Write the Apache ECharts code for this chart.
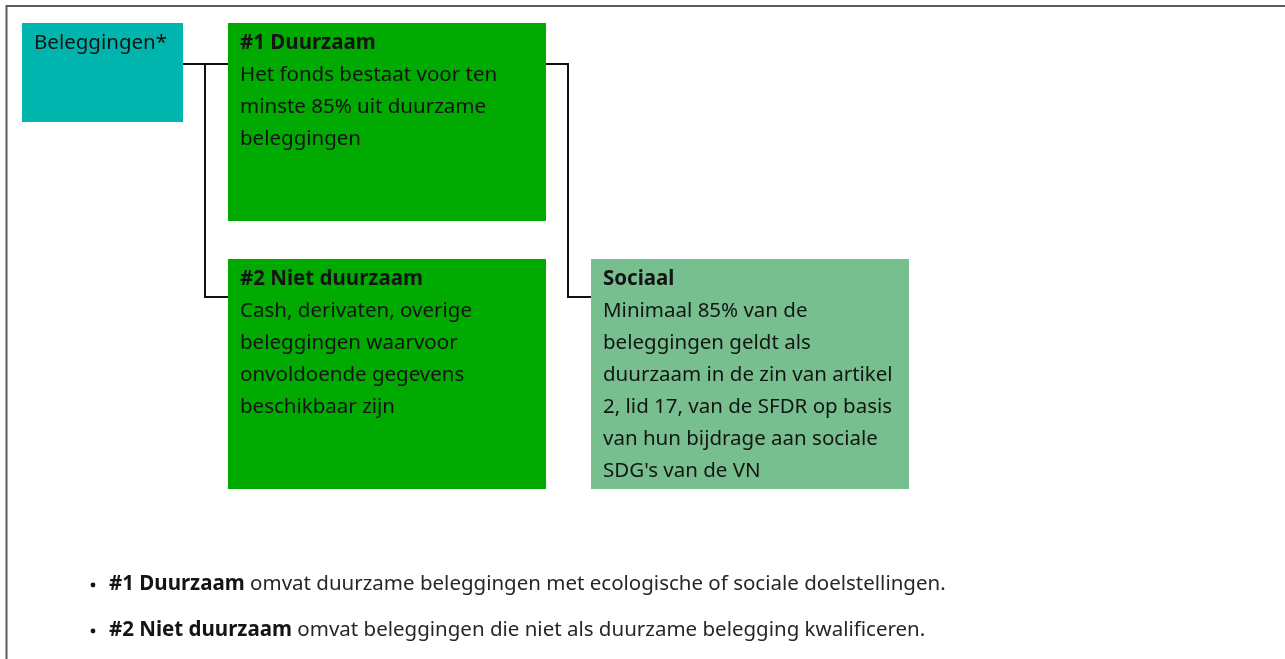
<!DOCTYPE html>
<html>
<head>
<meta charset="utf-8">
<script src="https://cdn.jsdelivr.net/npm/echarts@6/dist/echarts.min.js"></script>
<style>
  html, body { margin: 0; padding: 0; background: #fff; }
  #main { width: 1285px; height: 659px; }
</style>
</head>
<body>
<div id="main"></div>
<script>
// box texts
var rootLabel = 'Beleggingen*';
var boxTitles = ['#1 Duurzaam', '#2 Niet duurzaam', 'Sociaal'];
var boxLines = [
  ['Het fonds bestaat voor ten', 'minste 85% uit duurzame', 'beleggingen'],
  ['Cash, derivaten, overige', 'beleggingen waarvoor', 'onvoldoende gegevens', 'beschikbaar zijn'],
  ['Minimaal 85% van de', 'beleggingen geldt als', 'duurzaam in de zin van artikel', '2, lid 17, van de SFDR op basis', 'van hun bijdrage aan sociale', "SDG's van de VN"]
];
// notes below
var noteBold = ['#1 Duurzaam', '#2 Niet duurzaam'];
var noteText = [
  ' omvat duurzame beleggingen met ecologische of sociale doelstellingen.',
  ' omvat beleggingen die niet als duurzame belegging kwalificeren.'
];

var myChart = echarts.init(document.getElementById('main'));
var font = '"Noto Sans", sans-serif';
var fs = 20.5;
var txtColor = '#141414';

// layout of boxes
var boxes = [
  { x: 228, y: 23, w: 318, h: 198, fill: '#00aa00' },
  { x: 228, y: 259, w: 318, h: 230, fill: '#00aa00' },
  { x: 591, y: 259, w: 318, h: 230, fill: '#77bf8e' }
];

var elements = [];

// outer frame
elements.push({
  type: 'rect',
  shape: { x: 6.5, y: 6, width: 1300, height: 700 },
  style: { fill: 'none', stroke: '#5a5a5a', lineWidth: 2 }
});

// connectors
var lineStyle = { stroke: '#111', lineWidth: 2, fill: 'none' };
elements.push({ type: 'polyline', shape: { points: [[183, 64], [228, 64]] }, style: lineStyle });
elements.push({ type: 'polyline', shape: { points: [[205, 64], [205, 297], [228, 297]] }, style: lineStyle });
elements.push({ type: 'polyline', shape: { points: [[546, 64], [568, 64], [568, 297], [591, 297]] }, style: lineStyle });

// root box
elements.push({
  type: 'rect',
  shape: { x: 22, y: 23, width: 161, height: 99 },
  style: { fill: '#00b5ad' }
});
elements.push({
  type: 'text',
  x: 34, y: 27,
  style: {
    text: rootLabel,
    font: fs + 'px ' + font,
    fill: txtColor,
    lineHeight: 32,
    verticalAlign: 'top'
  }
});

boxes.forEach(function (b, i) {
  elements.push({
    type: 'rect',
    shape: { x: b.x, y: b.y, width: b.w, height: b.h },
    style: { fill: b.fill }
  });
  var txt = '{t|' + boxTitles[i] + '}\n' + boxLines[i].map(function (l) { return '{n|' + l + '}'; }).join('\n');
  elements.push({
    type: 'text',
    x: b.x + 12, y: b.y + 4,
    style: {
      text: txt,
      verticalAlign: 'top',
      fill: txtColor,
      rich: {
        t: { fontFamily: font, fontSize: fs, fontWeight: 'bold', lineHeight: 32, fill: txtColor },
        n: { fontFamily: font, fontSize: fs, lineHeight: 32, fill: txtColor }
      }
    }
  });
});

// bullet notes
noteBold.forEach(function (b, i) {
  var y = 584 + i * 46;
  elements.push({
    type: 'circle',
    shape: { cx: 93, cy: y + 1, r: 2.4 },
    style: { fill: txtColor }
  });
  elements.push({
    type: 'text',
    x: 109, y: y,
    style: {
      text: '{b|' + b + '}{n|' + noteText[i] + '}',
      verticalAlign: 'middle',
      rich: {
        b: { fontFamily: font, fontSize: fs, fontWeight: 'bold', fill: txtColor },
        n: { fontFamily: font, fontSize: fs, fill: '#262626' }
      }
    }
  });
});

var option = {
  backgroundColor: '#fff',
  graphic: { elements: elements }
};
myChart.setOption(option);
</script>
</body>
</html>
